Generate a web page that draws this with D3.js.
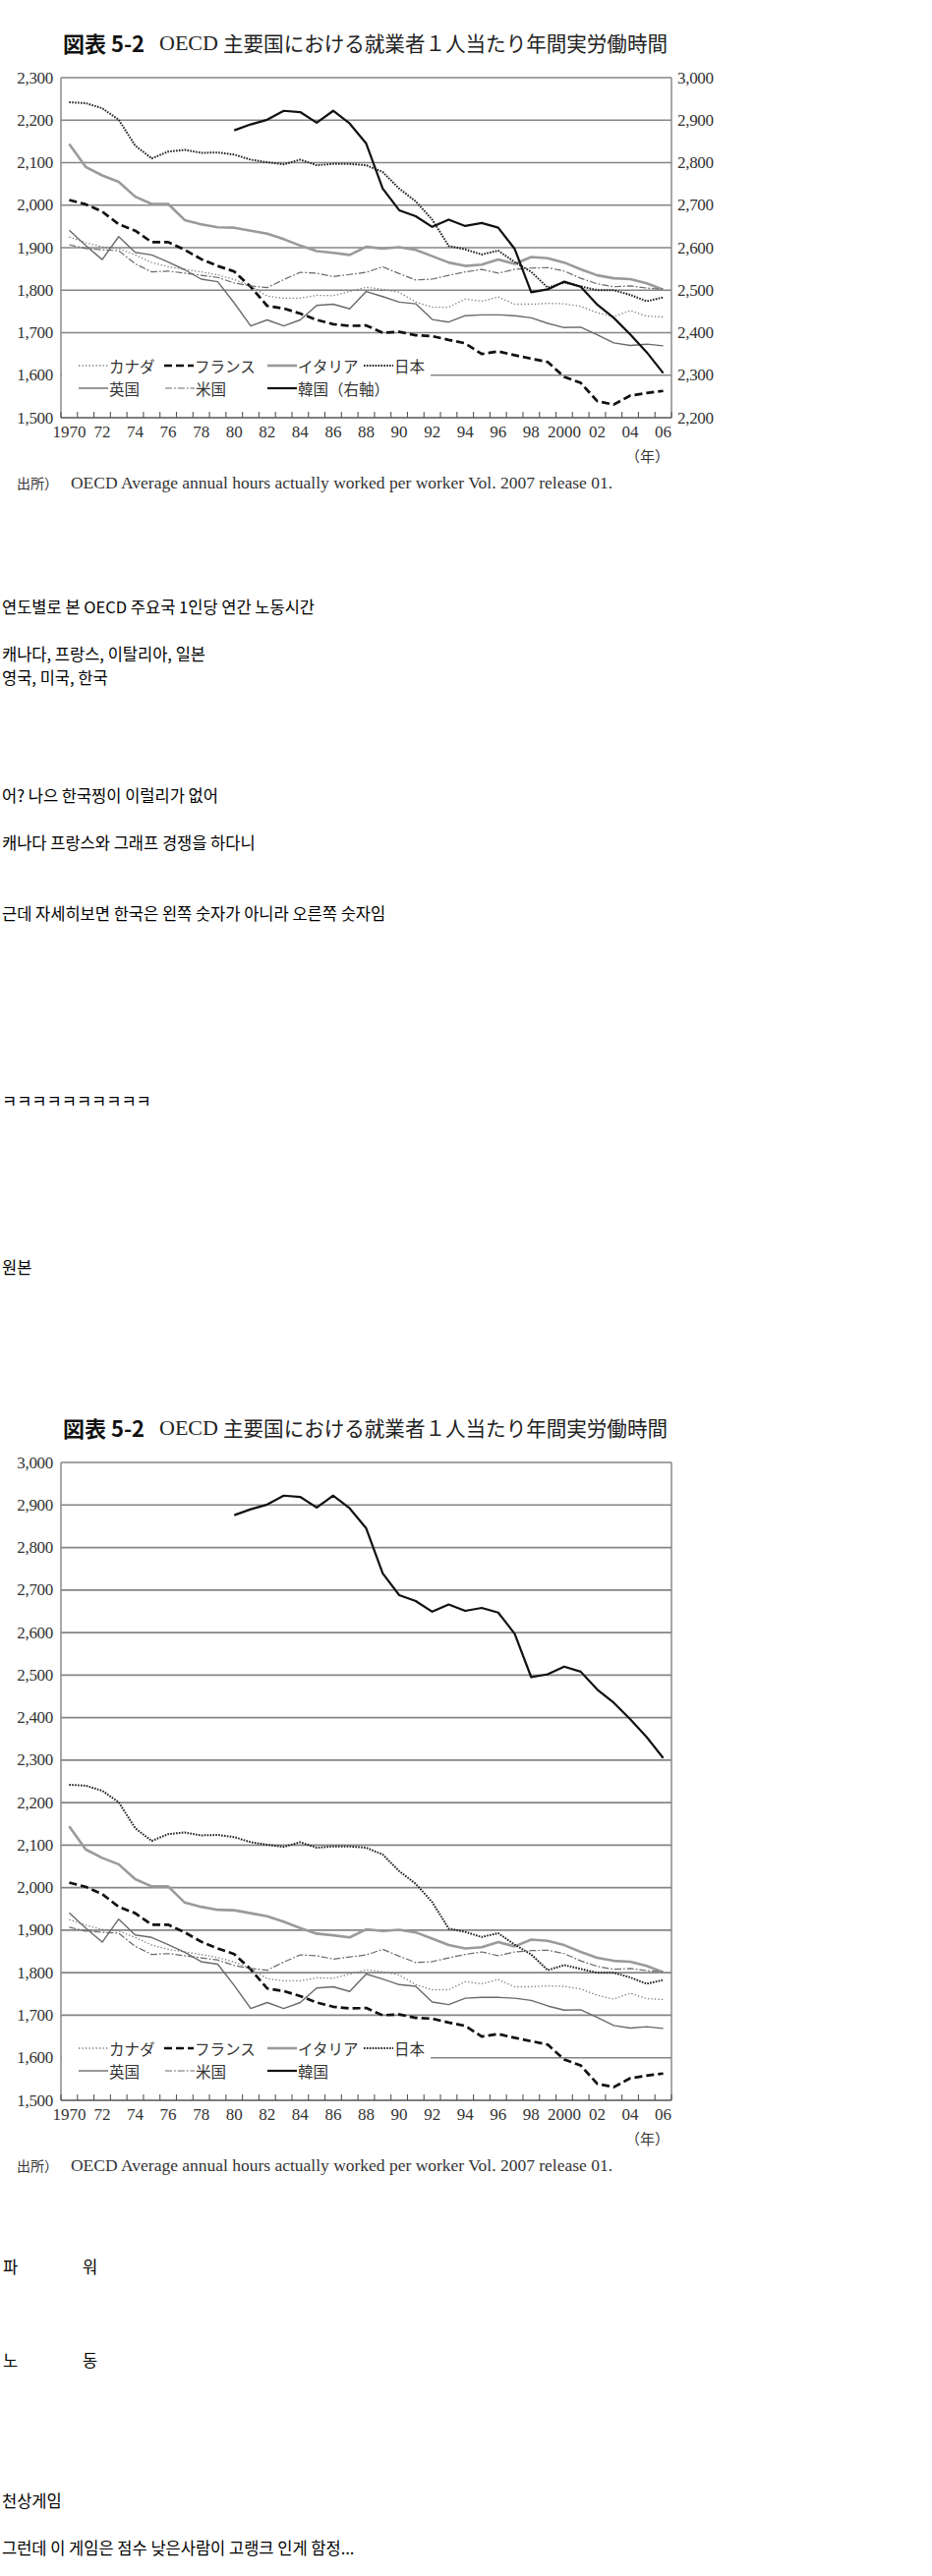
<!DOCTYPE html>
<html><head><meta charset="utf-8">
<script src="https://cdn.jsdelivr.net/npm/d3@7"></script>
<style>
html,body{margin:0;padding:0;background:#fff;}
svg{display:block;}
</style>
</head><body>
<svg id="c" width="948" height="2621"></svg>
<script>
// ---------- DATA ----------
const years = [1970,1971,1972,1973,1974,1975,1976,1977,1978,1979,1980,1981,1982,1983,1984,1985,1986,1987,1988,1989,1990,1991,1992,1993,1994,1995,1996,1997,1998,1999,2000,2001,2002,2003,2004,2005,2006];
const xTickLabels = ["1970","72","74","76","78","80","82","84","86","88","90","92","94","96","98","2000","02","04","06"];
const canada = [1925,1912,1902,1898,1883,1865,1855,1849,1843,1836,1825,1810,1786,1781,1781,1788,1787,1797,1807,1802,1795,1772,1760,1760,1779,1774,1784,1767,1767,1769,1768,1762,1747,1738,1752,1739,1737];
const france = [2012,2002,1985,1955,1940,1913,1913,1895,1873,1857,1844,1808,1763,1757,1745,1730,1720,1716,1717,1700,1702,1694,1692,1683,1675,1650,1656,1647,1639,1631,1596,1582,1539,1531,1552,1558,1563];
const italy = [2144,2090,2070,2055,2020,2003,2003,1965,1955,1948,1947,1940,1933,1920,1905,1892,1888,1883,1902,1898,1901,1895,1880,1865,1857,1860,1872,1862,1878,1875,1865,1849,1835,1828,1826,1816,1801];
const japan = [2242,2240,2228,2201,2140,2110,2126,2130,2123,2124,2119,2107,2101,2096,2107,2094,2097,2097,2094,2078,2039,2009,1966,1904,1896,1884,1893,1866,1843,1806,1818,1809,1800,1800,1789,1774,1783];
const uk = [1941,1905,1872,1926,1889,1883,1866,1848,1826,1820,1770,1716,1730,1716,1730,1764,1767,1756,1797,1785,1772,1768,1731,1725,1740,1742,1742,1740,1735,1722,1712,1713,1695,1676,1670,1673,1669];
const us = [1907,1898,1895,1893,1862,1843,1845,1840,1835,1830,1817,1810,1806,1825,1842,1840,1832,1837,1842,1855,1839,1824,1826,1835,1843,1849,1840,1849,1852,1853,1845,1828,1815,1808,1810,1805,1802];
const korea = [null,null,null,null,null,null,null,null,null,null,2876,2890,2901,2922,2919,2894,2922,2892,2845,2739,2688,2674,2649,2666,2651,2658,2647,2597,2495,2502,2520,2508,2466,2435,2396,2354,2305];
const seriesNames = ["カナダ","フランス","イタリア","日本","英国","米国","韓国"];
const leftTicksTop = [1500,1600,1700,1800,1900,2000,2100,2200,2300];
const rightTicksTop = [2200,2300,2400,2500,2600,2700,2800,2900,3000];
const leftTicksBottom = [1500,1600,1700,1800,1900,2000,2100,2200,2300,2400,2500,2600,2700,2800,2900,3000];

const koreanLines = [
  {t:"연도별로 본 OECD 주요국 1인당 연간 노동시간", x:2, y:617},
  {t:"캐나다, 프랑스, 이탈리아, 일본", x:2, y:665},
  {t:"영국, 미국, 한국", x:2, y:689},
  {t:"어? 나으 한국찡이 이럴리가 없어", x:2, y:809},
  {t:"캐나다 프랑스와 그래프 경쟁을 하다니", x:2, y:857},
  {t:"근데 자세히보면 한국은 왼쪽 숫자가 아니라 오른쪽 숫자임", x:2, y:929},
  {t:"ㅋㅋㅋㅋㅋㅋㅋㅋㅋㅋ", x:2, y:1120},
  {t:"원본", x:2, y:1289},
  {t:"파", x:3, y:2306},
  {t:"워", x:84, y:2306},
  {t:"노", x:3, y:2401},
  {t:"동", x:84, y:2401},
  {t:"천상게임", x:2, y:2544},
  {t:"그런데 이 게임은 점수 낮은사람이 고랭크 인게 함정...", x:2, y:2592}
];

// ---------- STYLES ----------
const styles = {
  "カナダ": {stroke:"#7a7a7a", width:1.3, dash:"1.3,2.2"},
  "フランス": {stroke:"#111", width:2.7, dash:"8,4"},
  "イタリア": {stroke:"#9a9a9a", width:2.6, dash:null},
  "日本": {stroke:"#222", width:2.0, dash:"1.6,1.3"},
  "英国": {stroke:"#6a6a6a", width:1.4, dash:null},
  "米国": {stroke:"#6a6a6a", width:1.2, dash:"7,2,1.8,2"},
  "韓国": {stroke:"#111", width:2.2, dash:null}
};
const serif = "'Liberation Serif','DejaVu Serif',serif";
const jp = "'Noto Sans CJK JP','Noto Sans',sans-serif";
const kr = "'Noto Sans CJK KR','Noto Sans',sans-serif";

const svg = d3.select("#c");
svg.append("rect").attr("width",948).attr("height",2621).attr("fill","#fff");

const L = 62, R = 683;
const x = d3.scaleBand().domain(years).range([L, R]);
const cx = d => x(d) + x.bandwidth()/2;

const valuesByName = {"カナダ":canada,"フランス":france,"イタリア":italy,"日本":japan,"英国":uk,"米国":us,"韓国":korea};

function drawChart(cfg){
  const g = svg.append("g");
  const yL = d3.scaleLinear().domain([cfg.leftTicks[0], cfg.leftTicks[cfg.leftTicks.length-1]]).range([cfg.bottom, cfg.top]);
  const yR = cfg.rightTicks ? d3.scaleLinear().domain([cfg.rightTicks[0], cfg.rightTicks[cfg.rightTicks.length-1]]).range([cfg.bottom, cfg.top]) : yL;

  // title
  const ty = cfg.top - 36;
  g.append("text").attr("x",64).attr("y",ty).attr("dominant-baseline","central")
    .attr("font-family",jp).attr("font-weight",700).attr("font-size",22).attr("fill","#111").text("図表 5-2");
  g.append("text").attr("x",162).attr("y",ty).attr("dominant-baseline","central")
    .attr("font-family",serif).attr("font-size",22).attr("fill","#222").text("OECD");
  g.append("text").attr("x",227).attr("y",ty).attr("dominant-baseline","central")
    .attr("font-family",jp).attr("font-size",21).attr("fill","#222")
    .attr("textLength",452).attr("lengthAdjust","spacingAndGlyphs")
    .text("主要国における就業者１人当たり年間実労働時間");

  // gridlines
  g.selectAll(".grid").data(cfg.leftTicks.slice(1)).enter().append("line")
    .attr("x1",L).attr("x2",R).attr("y1",d=>yL(d)).attr("y2",d=>yL(d))
    .attr("stroke","#858585").attr("stroke-width",1.7);

  // legend box
  g.append("rect").attr("x",L+1).attr("y",cfg.bottom-67).attr("width",438-L-1).attr("height",48).attr("fill","#fff");

  // axes frame
  g.append("line").attr("x1",L).attr("x2",L).attr("y1",cfg.top).attr("y2",cfg.bottom).attr("stroke","#8a8a8a").attr("stroke-width",1.5);
  g.append("line").attr("x1",R).attr("x2",R).attr("y1",cfg.top).attr("y2",cfg.bottom).attr("stroke","#8a8a8a").attr("stroke-width",1.5);
  g.append("line").attr("x1",L).attr("x2",R).attr("y1",cfg.bottom).attr("y2",cfg.bottom).attr("stroke","#555").attr("stroke-width",1.5);

  // x ticks at category boundaries
  const bounds = years.map(d=>x(d)).concat([R]);
  g.selectAll(".xt").data(bounds).enter().append("line")
    .attr("x1",d=>d).attr("x2",d=>d).attr("y1",cfg.bottom).attr("y2",cfg.bottom-6)
    .attr("stroke","#555").attr("stroke-width",1.1);

  // x labels
  const evenYears = years.filter((d,i)=>i%2===0);
  g.selectAll(".xl").data(evenYears).enter().append("text")
    .attr("x",d=>cx(d)).attr("y",cfg.bottom+14).attr("text-anchor","middle").attr("dominant-baseline","central")
    .attr("font-family",serif).attr("font-size",17).attr("fill","#333")
    .text((d,i)=>xTickLabels[i]);
  g.append("text").attr("x",681).attr("y",cfg.bottom+38).attr("text-anchor","end").attr("dominant-baseline","central")
    .attr("font-family",jp).attr("font-size",15).attr("fill","#333").text("（年）");

  // left labels
  g.selectAll(".yl").data(cfg.leftTicks).enter().append("text")
    .attr("x",54).attr("y",d=>yL(d)).attr("text-anchor","end").attr("dominant-baseline","central")
    .attr("font-family",serif).attr("font-size",17).attr("fill","#333").attr("letter-spacing",-0.3)
    .text(d=>d3.format(",")(d));
  if (cfg.rightTicks){
    g.selectAll(".yr").data(cfg.rightTicks).enter().append("text")
      .attr("x",689).attr("y",d=>yR(d)).attr("text-anchor","start").attr("dominant-baseline","central")
      .attr("font-family",serif).attr("font-size",17).attr("fill","#333").attr("letter-spacing",-0.3)
      .text(d=>d3.format(",")(d));
  }

  // series
  seriesNames.forEach(name=>{
    const vals = valuesByName[name];
    const ys = (name==="韓国") ? yR : yL;
    const st = styles[name];
    const line = d3.line().defined(d=>d.v!=null).x(d=>cx(d.y)).y(d=>ys(d.v));
    g.append("path").datum(years.map((y,i)=>({y:y,v:vals[i]})))
      .attr("d",line).attr("fill","none").attr("stroke",st.stroke).attr("stroke-width",st.width)
      .attr("stroke-dasharray",st.dash).attr("stroke-linejoin","round");
  });

  // legend
  const rows = [
    [{n:"カナダ",x:80},{n:"フランス",x:167},{n:"イタリア",x:272},{n:"日本",x:370}],
    [{n:"英国",x:80},{n:"米国",x:168},{n:"韓国",x:272}]
  ];
  rows.forEach((row,ri)=>{
    const ly = cfg.bottom + (ri===0 ? -53 : -30);
    row.forEach(it=>{
      const st = styles[it.n];
      g.append("line").attr("x1",it.x).attr("x2",it.x+30).attr("y1",ly).attr("y2",ly)
        .attr("stroke",st.stroke).attr("stroke-width",st.width).attr("stroke-dasharray",st.dash);
      g.append("text").attr("x",it.x+31).attr("y",ly).attr("dominant-baseline","central")
        .attr("font-family",jp).attr("font-size",15.5).attr("fill","#333")
        .text(it.n==="韓国" ? cfg.koreaLabel : it.n);
    });
  });

  // source
  const sy = cfg.bottom + 66;
  g.append("text").attr("x",17).attr("y",sy).attr("dominant-baseline","central")
    .attr("font-family",jp).attr("font-size",14).attr("fill","#333").text("出所）");
  g.append("text").attr("x",72).attr("y",sy).attr("dominant-baseline","central")
    .attr("font-family",serif).attr("font-size",16).attr("fill","#333")
    .attr("textLength",551).attr("lengthAdjust","spacingAndGlyphs")
    .text("OECD Average annual hours actually worked per worker Vol. 2007 release 01.");
}

drawChart({top:79, bottom:425, leftTicks:leftTicksTop, rightTicks:rightTicksTop, koreaLabel:"韓国（右軸）"});
drawChart({top:1488, bottom:2137, leftTicks:leftTicksBottom, rightTicks:null, koreaLabel:"韓国"});

svg.selectAll(".kr").data(koreanLines).enter().append("text")
  .attr("x",d=>d.x).attr("y",d=>d.y).attr("dominant-baseline","central")
  .attr("font-family",kr).attr("font-size",16.5).attr("fill","#000")
  .text(d=>d.t);
</script>
</body></html>
